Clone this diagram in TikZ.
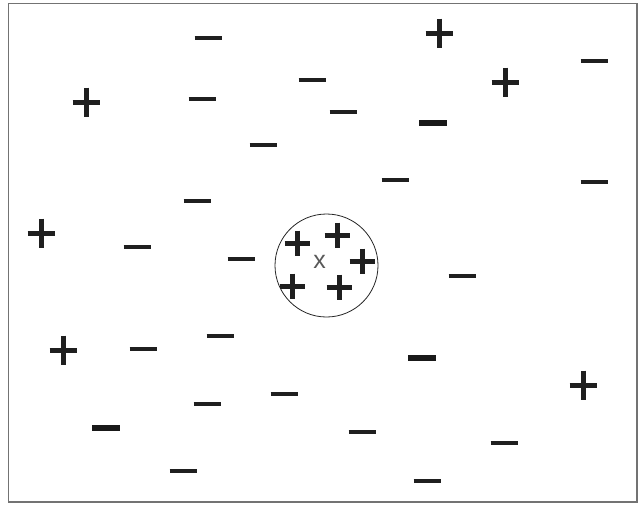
\documentclass[tikz,border=0pt]{standalone}
\usepackage{fontspec}
\setsansfont{Liberation Sans}
\begin{document}
\begin{tikzpicture}[x=1pt,y=-1pt,
  sym/.style={line width=4.5pt,color=black!88},
  psym/.style={line width=5pt,color=black!88},
  thick sym/.style={line width=6pt,color=black!90},
  plusm/.pic={\draw[psym] (-13.5,0) -- (13.5,0) (0,-14.5) -- (0,14.5);},
  pluss/.pic={\draw[psym] (-12.5,0) -- (12.5,0) (0,-12.5) -- (0,12.5);},
  minusm/.pic={\draw[sym] (-13.5,0) -- (13.5,0);},
  minust/.pic={\draw[thick sym] (-14,0) -- (14,0);}]
\useasboundingbox (0,0) rectangle (639,504);
\draw[line width=1.6pt,black!55] (8.5,3.5) rectangle (637,502);
% circle and query point
\node[circle,draw=black!85,line width=0.8pt,minimum size=103pt,inner sep=0pt] (nb) at (326.5,265.5) {};
\node[text=black!65,font=\sffamily\fontsize{25}{25}\selectfont,inner sep=0pt] (q) at (319.5,262) {x};
\pic at (297,243) {pluss};
\pic at (337,235) {pluss};
\pic at (362,261) {pluss};
\pic at (292,286) {pluss};
\pic at (339,287) {pluss};
% pluses outside
\pic at (86,102) {plusm};
\pic at (41,233) {plusm};
\pic at (439,33) {plusm};
\pic at (505,82) {plusm};
\pic at (63,350) {plusm};
\pic at (583,385) {plusm};
% minuses
\pic at (208,38) {minusm};
\pic at (202,99) {minusm};
\pic at (263,145) {minusm};
\pic at (197,201) {minusm};
\pic at (312,80) {minusm};
\pic at (137,247) {minusm};
\pic at (594,61) {minusm};
\pic at (343,112) {minusm};
\pic at (433,123) {minust};
\pic at (395,180) {minusm};
\pic at (594,182) {minusm};
\pic at (241,259) {minusm};
\pic at (143,349) {minusm};
\pic at (220,336) {minusm};
\pic at (284,394) {minusm};
\pic at (207,404) {minusm};
\pic at (106,428) {minust};
\pic at (183,471) {minusm};
\pic at (462,276) {minusm};
\pic at (422,358) {minust};
\pic at (362,432) {minusm};
\pic at (504,443) {minusm};
\pic at (427,481) {minusm};
\end{tikzpicture}
\end{document}
